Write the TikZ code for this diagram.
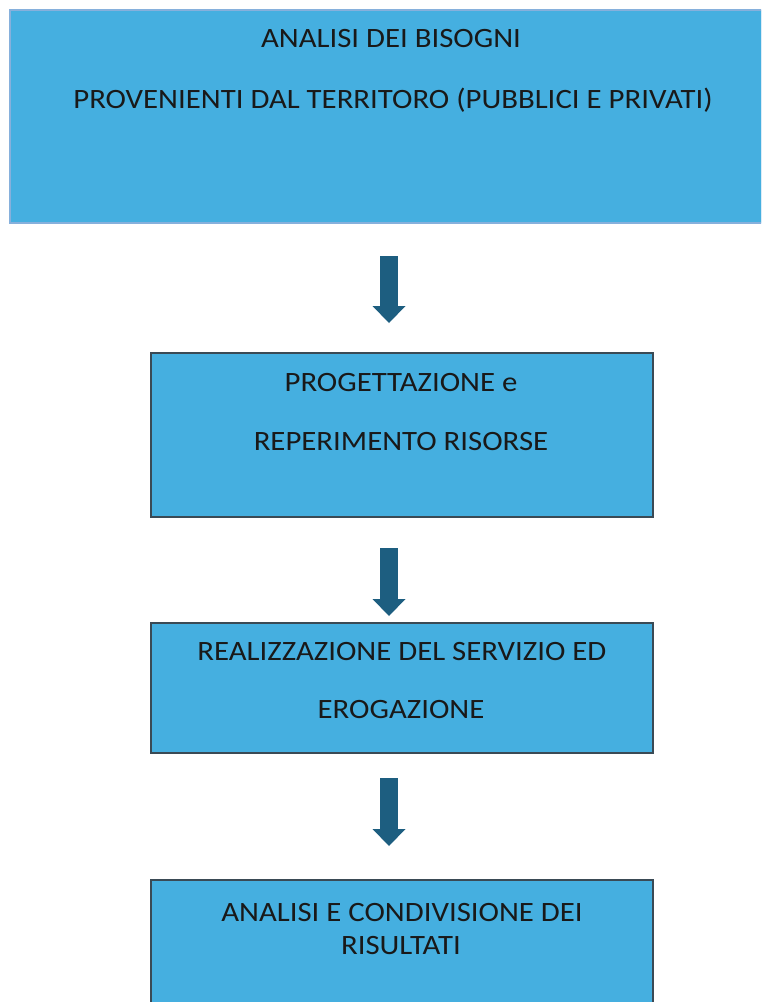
\documentclass[tikz,border=0pt]{standalone}
\usepackage{fontspec}
\setmainfont{Carlito}
\usetikzlibrary{arrows.meta}

\definecolor{boxblue}{HTML}{45AFE0}
\definecolor{topline}{HTML}{86B0DC}
\definecolor{boxline}{HTML}{3A4A55}
\definecolor{arrowblue}{HTML}{1D5E80}

\newcommand{\boxtext}[1]{\scalebox{1.1}[1]{#1}}

\tikzset{
  box/.style={rectangle, fill=boxblue, inner sep=0pt},
  stepbox/.style={box, draw=boxline, line width=1.6pt},
  txt/.style={inner sep=0pt, anchor=base, font=\fontsize{28}{32}\selectfont, text=black!90},
  downarrow/.style={draw=arrowblue, line width=18pt, -{Triangle[width=33pt,length=17pt,line width=0pt]}, arrowblue}
}

\begin{document}
\begin{tikzpicture}[x=1pt,y=-1pt]
  % \draw[step=50,thin,gray!40] (0,0) grid (761,1002);
  \useasboundingbox (0,0) rectangle (761,1002);
  \clip (0,0) rectangle (761,1002);

  \node[box, draw=topline, line width=1.2pt, minimum width=752pt, minimum height=213pt] (bisogni) at (386,116.5) {};
  \node[stepbox, minimum width=502pt, minimum height=164pt] (progetto) at (402,435) {};
  \node[stepbox, minimum width=502pt, minimum height=130pt] (servizio) at (402,688) {};
  \node[stepbox, minimum width=502pt, minimum height=150pt] (risultati) at (402,955) {};

  \node[txt] (bisogniA) at (391,47) {\boxtext{ANALISI DEI BISOGNI}};
  \node[txt] (bisogniB) at (393,108) {\boxtext{PROVENIENTI DAL TERRITORO (PUBBLICI E PRIVATI)}};
  \node[txt] (progettoA) at (401,391) {\boxtext{PROGETTAZIONE e}};
  \node[txt] (progettoB) at (401,450) {\boxtext{REPERIMENTO RISORSE}};
  \node[txt] (servizioA) at (402,660) {\boxtext{REALIZZAZIONE DEL SERVIZIO ED}};
  \node[txt] (servizioB) at (401,718) {\boxtext{EROGAZIONE}};
  \node[txt] (risultatiA) at (402,921) {\boxtext{ANALISI E CONDIVISIONE DEI}};
  \node[txt] (risultatiB) at (401,954) {\boxtext{RISULTATI}};

  \coordinate (a1s) at (389,256);
  \coordinate (a1e) at (389,323);
  \coordinate (a2s) at (389,548);
  \coordinate (a2e) at (389,616);
  \coordinate (a3s) at (389,778);
  \coordinate (a3e) at (389,846);

  \draw[downarrow] (a1s) -- (a1e);
  \draw[downarrow] (a2s) -- (a2e);
  \draw[downarrow] (a3s) -- (a3e);
\end{tikzpicture}
\end{document}
